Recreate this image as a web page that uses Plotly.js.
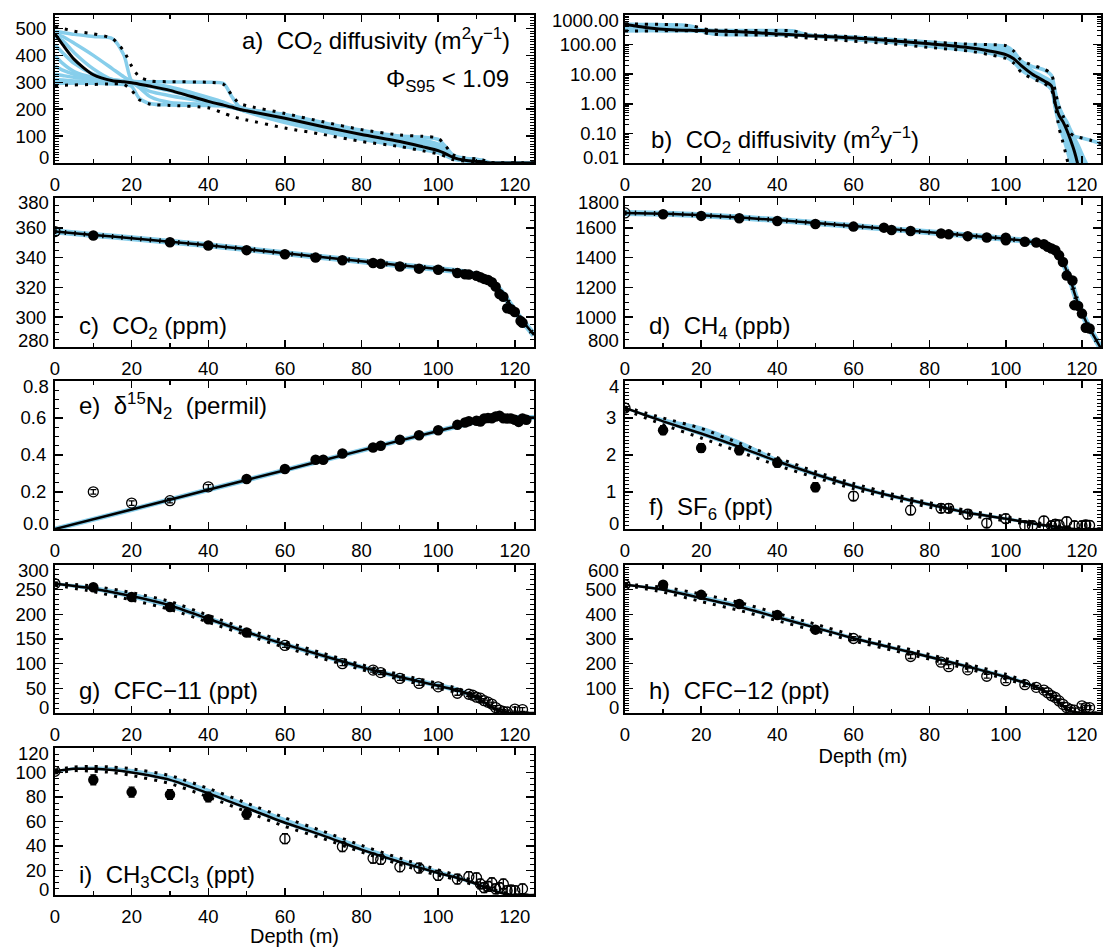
<!DOCTYPE html>
<html>
<head>
<meta charset="utf-8">
<script src="https://cdn.plot.ly/plotly-3.0.1.min.js"></script>
<style>
  html, body { margin: 0; padding: 0; background: #fff; }
  #chart { width: 1103px; height: 947px; }
</style>
</head>
<body>
<div id="chart"></div>
<script>
// ---------------- Diffusivity profiles (m2/yr) vs depth (m), panels a and b ----------------
const diffDepth = [0, 2, 5, 10, 15, 18, 20, 22, 25, 30, 40, 44, 46, 48, 50, 60, 70, 80, 90, 96,
  100, 102, 104, 107, 110, 112, 113, 114, 115, 116, 117, 118, 119, 120, 122, 125];
const diffMean = [480, 440, 385, 328, 306, 302, 298, 293, 285, 270, 229, 215, 208, 200, 194, 166, 135, 106, 80, 60,
  46, 34, 20, 10, 6, 4, 1.0, 0.4, 0.25, 0.13, 0.06, 0.025, 0.008, 0.002, 0.0005, 0.0001];
const diffHi = [505, 500, 490, 480, 462, 415, 360, 320, 305, 302, 300, 292, 255, 222, 213, 184, 153, 124, 104, 99,
  92, 62, 30, 20, 15, 10, 2.5, 0.8, 0.4, 0.2, 0.1, 0.08, 0.075, 0.07, 0.06, 0.045];
const diffLo = [288, 289, 290, 292, 294, 292, 270, 235, 218, 214, 205, 185, 175, 166, 160, 130, 106, 80, 61, 45,
  34, 24, 12, 7, 5, 3, 0.9, 0.15, 0.05, 0.015, 0.004, 0.001, 0.0003, 0.0001, 0.0001, 0.0001];
const diffRun1 = [490, 485, 478, 470, 462, 400, 305, 300, 290, 275, 235, 218, 210, 203, 196, 168, 138, 108, 82, 62,
  50, 36, 22, 11, 6.5, 4.5, 1.2, 0.5, 0.3, 0.15, 0.07, 0.03, 0.01, 0.003, 0.0008, 0.0002];
const diffRun2 = [480, 470, 445, 400, 350, 320, 305, 302, 302, 301, 300, 295, 250, 210, 200, 180, 150, 122, 100, 96,
  88, 60, 28, 18, 14, 9, 2.5, 0.8, 0.4, 0.2, 0.12, 0.08, 0.075, 0.07, 0.06, 0.045];
const diffRun3 = [470, 455, 410, 350, 310, 305, 300, 285, 265, 250, 225, 212, 206, 200, 194, 165, 133, 104, 78, 58,
  44, 32, 19, 10, 6, 4, 1.0, 0.35, 0.2, 0.1, 0.05, 0.02, 0.006, 0.002, 0.0005, 0.0001];
const diffRun4 = [400, 370, 340, 318, 308, 304, 300, 280, 245, 225, 218, 214, 208, 200, 192, 160, 128, 98, 72, 55,
  42, 30, 17, 9, 5.5, 3.5, 0.8, 0.25, 0.12, 0.05, 0.02, 0.006, 0.002, 0.0005, 0.0001, 0.0001];
const diffRun5 = [330, 325, 318, 312, 306, 303, 300, 296, 290, 278, 240, 222, 212, 204, 197, 168, 138, 110, 84, 66,
  52, 38, 22, 11, 7, 5, 1.5, 0.6, 0.35, 0.2, 0.1, 0.05, 0.025, 0.012, 0.004, 0.001];
const diffRun6 = [310, 308, 305, 302, 300, 299, 297, 292, 283, 268, 232, 216, 208, 201, 194, 164, 132, 102, 74, 56,
  43, 31, 18, 9, 5.5, 3.8, 0.9, 0.3, 0.15, 0.07, 0.03, 0.01, 0.003, 0.001, 0.0003, 0.0001];
const diffRun7 = [300, 300, 298, 296, 294, 292, 285, 240, 220, 216, 214, 212, 208, 200, 190, 150, 118, 88, 64, 50,
  38, 26, 14, 8, 5, 3, 0.7, 0.2, 0.08, 0.03, 0.01, 0.003, 0.001, 0.0003, 0.0001, 0.0001];
const diffRun8 = [360, 345, 330, 315, 306, 302, 298, 294, 288, 276, 236, 220, 211, 203, 196, 170, 140, 112, 88, 75,
  62, 45, 26, 12, 7, 5, 1.3, 0.5, 0.3, 0.16, 0.08, 0.04, 0.02, 0.01, 0.003, 0.001];
const diffRun9 = [440, 410, 370, 330, 310, 305, 300, 295, 287, 272, 232, 216, 209, 202, 195, 165, 134, 105, 78, 60,
  46, 33, 20, 10, 6, 4, 1.0, 0.4, 0.22, 0.11, 0.05, 0.02, 0.007, 0.002, 0.0005, 0.0001];
const diffRun10 = [295, 296, 297, 298, 299, 300, 300, 298, 294, 283, 244, 226, 214, 205, 198, 172, 142, 114, 92, 85,
  70, 50, 28, 13, 8, 5.5, 1.6, 0.7, 0.4, 0.25, 0.13, 0.07, 0.04, 0.02, 0.006, 0.002];
const diffRuns = [diffRun1, diffRun2, diffRun3, diffRun4, diffRun5, diffRun6, diffRun7, diffRun8, diffRun9, diffRun10];

// ---------------- c) CO2 (ppm) ----------------
const co2Depth = [0, 10, 20, 30, 40, 50, 60, 70, 80, 90, 100, 105, 108, 110, 112, 114, 116, 118, 120, 122, 125];
const co2Model = [357.5, 355.2, 353, 350.7, 348.3, 345.7, 342.9, 340.2, 337.6, 334.9, 332.3, 330.8, 329.6, 328.3,
  326.3, 323, 318.5, 311.5, 304, 297.5, 288];
const co2SurfDepth = [0];
const co2Surf = [357.5];
const co2PtDepth = [10, 30, 40, 50, 60, 68, 75, 83, 85, 90, 95, 100, 105, 107, 108, 110, 111, 112, 113, 114,
  115, 116, 117, 118, 119, 120, 121.5, 122];
const co2Pt = [354.8, 350.3, 348.1, 345, 342.3, 340, 338.2, 336.4, 335.9, 334, 332.6, 331.9, 329.6, 328.8, 328.6,
  327.8, 326.8, 325.7, 325, 323.4, 320.5, 315.5, 313.7, 306, 305.3, 303.5, 297.4, 296.3];

// ---------------- d) CH4 (ppb) ----------------
const ch4Depth = [0, 10, 20, 40, 60, 80, 100, 105, 108, 110, 111, 112, 113, 114, 115, 116, 117, 118, 119, 120,
  121, 122, 123, 125];
const ch4Model = [1700, 1695, 1685, 1652, 1612, 1570, 1527, 1512, 1500, 1488, 1478, 1465, 1446, 1418, 1375, 1310,
  1250, 1165, 1090, 1030, 975, 925, 880, 790];
const ch4SurfDepth = [0];
const ch4Surf = [1700];
const ch4PtDepth = [10, 20, 30, 40, 50, 60, 68, 70, 75, 83, 85, 90, 95, 100, 100, 105, 108, 110, 111, 112, 113,
  114, 115, 116, 117.5, 118, 119, 120, 121, 122];
const ch4Pt = [1691, 1680, 1664, 1646, 1626, 1608, 1601, 1585, 1578, 1562, 1556, 1544, 1535, 1533, 1517, 1506,
  1501, 1490, 1472, 1461, 1449, 1415, 1370, 1280, 1246, 1081, 1076, 1024, 929, 924];

// ---------------- e) delta 15N2 (permil) ----------------
const d15Depth = [0, 20, 40, 60, 80, 100, 105, 110, 113, 115, 118, 125];
const d15Model = [0.0, 0.105, 0.212, 0.318, 0.425, 0.53, 0.555, 0.58, 0.598, 0.605, 0.603, 0.603];
const d15OpenDepth = [10, 20, 30, 40];
const d15Open = [0.201, 0.14, 0.153, 0.228];
const d15OpenErr = [0.012, 0.012, 0.012, 0.012];
const d15PtDepth = [50, 60, 68, 70, 75, 83, 85, 90, 95, 100, 105, 107, 108, 110, 111, 112, 113, 114, 115, 116,
  117, 118, 119, 120, 121, 122, 123];
const d15Pt = [0.27, 0.324, 0.374, 0.374, 0.408, 0.441, 0.45, 0.482, 0.507, 0.534, 0.563, 0.576, 0.583, 0.585,
  0.581, 0.597, 0.6, 0.599, 0.608, 0.612, 0.599, 0.597, 0.597, 0.59, 0.579, 0.597, 0.59];

// ---------------- f) SF6 (ppt) ----------------
const sf6Depth = [0, 10, 20, 30, 40, 50, 60, 70, 80, 90, 100, 105, 110, 115, 118, 125];
const sf6Model = [3.27, 2.91, 2.58, 2.22, 1.83, 1.48, 1.16, 0.89, 0.66, 0.44, 0.28, 0.19, 0.1, 0.04, 0.0, 0.0];
const sf6BandHi = [3.28, 2.98, 2.76, 2.38, 1.9, 1.53, 1.2, 0.93, 0.7, 0.48, 0.31, 0.22, 0.12, 0.05, 0.01, 0.0];
const sf6BandLo = [3.25, 2.88, 2.53, 2.17, 1.78, 1.43, 1.12, 0.85, 0.62, 0.41, 0.25, 0.16, 0.07, 0.01, -0.03, -0.03];
const sf6DotHi = [3.3, 3.0, 2.72, 2.32, 1.93, 1.55, 1.23, 0.95, 0.71, 0.5, 0.33, 0.23, 0.14, 0.06, 0.02, 0.0];
const sf6DotLo = [3.22, 2.82, 2.46, 2.09, 1.72, 1.39, 1.09, 0.82, 0.59, 0.38, 0.22, 0.14, 0.05, 0.0, 0.0, 0.0];
const sf6SurfDepth = [0];
const sf6Surf = [3.27];
const sf6FirnDepth = [10, 20, 30, 40, 50];
const sf6Firn = [2.67, 2.19, 2.13, 1.79, 1.13];
const sf6IceDepth = [60, 75, 83, 85, 90, 95, 100, 105, 107, 110, 112, 113, 114, 116, 118, 120, 121, 122];
const sf6Ice = [0.89, 0.51, 0.56, 0.56, 0.4, 0.16, 0.28, 0.09, 0.09, 0.22, 0.09, 0.13, 0.11, 0.2, 0.09, 0.09, 0.11, 0.1];
const sf6Err = 0.12;

// ---------------- g) CFC-11 (ppt) ----------------
const cfcDepth = [0, 10, 20, 30, 40, 50, 60, 70, 80, 90, 100, 105, 108, 110, 112, 114, 116, 118, 125];
const cfc11Model = [262, 252, 237, 218, 191, 164, 139, 116, 93, 73, 55, 46, 38, 31, 22, 12, 4, 0.5, 0];
const cfc11BandHi = [264, 256, 243, 224, 196, 168, 143, 120, 97, 77, 60, 51, 41, 33, 23, 13, 5, 1, 0];
const cfc11BandLo = [260, 249, 233, 213, 187, 160, 135, 112, 89, 69, 52, 42, 35, 28, 19, 10, 3, 0, -2];
const cfc11DotHi = [264, 257, 244, 226, 198, 170, 145, 121, 98, 78, 60, 50, 41, 33, 23, 13, 5, 1, 0];
const cfc11DotLo = [259, 246, 229, 210, 184, 158, 133, 110, 88, 68, 50, 41, 34, 27, 18, 10, 2.5, 0, 0];
const cfc11SurfDepth = [0];
const cfc11Surf = [262];
const cfc11FirnDepth = [10, 20, 30, 40, 50];
const cfc11Firn = [255, 235, 215, 190, 163];
const cfc11IceDepth = [60, 75, 83, 85, 90, 95, 100, 105, 108, 109, 110, 111, 112, 113, 114, 115, 116, 117, 118, 120, 122];
const cfc11Ice = [137, 100, 87, 82, 70, 60, 53, 40, 38, 36, 32, 30, 25, 22, 18, 11, 6, 3, 2, 8, 7];
const cfc11Err = 4;

// ---------------- h) CFC-12 (ppt) ----------------
const cfc12Model = [520, 500, 466, 431, 388, 346, 303, 265, 227, 188, 146, 122, 106, 90, 70, 43, 16, 3, 0];
const cfc12BandHi = [522, 506, 476, 441, 397, 353, 309, 271, 233, 194, 153, 128, 110, 93, 72, 45, 18, 4, 0];
const cfc12BandLo = [518, 496, 460, 425, 382, 341, 298, 260, 222, 183, 141, 117, 101, 86, 66, 40, 13, 2, -4];
const cfc12DotHi = [522, 510, 482, 448, 404, 360, 315, 276, 237, 198, 157, 130, 112, 95, 74, 47, 19, 5, 0];
const cfc12DotLo = [517, 490, 452, 416, 374, 334, 292, 255, 218, 179, 138, 114, 99, 84, 64, 38, 12, 1, 0];
const cfc12SurfDepth = [0];
const cfc12Surf = [520];
const cfc12FirnDepth = [10, 20, 30, 40, 50];
const cfc12Firn = [520, 479, 442, 397, 338];
const cfc12IceDepth = [60, 75, 83, 85, 90, 95, 100, 105, 108, 110, 111, 112, 113, 114, 115, 116, 117, 118, 120, 121, 122];
const cfc12Ice = [302, 229, 206, 188, 175, 149, 131, 115, 104, 93, 82, 70, 63, 49, 35, 22, 15, 12, 29, 22, 22];
const cfc12Err = 8;

// ---------------- i) CH3CCl3 (ppt) ----------------
const mcfDepth = [0, 5, 10, 15, 20, 30, 40, 50, 60, 70, 80, 90, 100, 105, 110, 114, 117, 120, 125];
const mcfModel = [101, 103, 103, 102, 100, 94, 83, 71, 59, 48.5, 37, 27, 18, 14, 9, 4, 1.3, 0, 0];
const mcfBandHi = [101.5, 104, 104.5, 104, 102.5, 97, 86.5, 74.5, 62.5, 51.5, 40, 29.5, 20, 15.5, 10, 5, 2, 0.3, 0];
const mcfBandLo = [100, 102.5, 102.5, 101.5, 99.5, 93, 82, 70, 58, 47.5, 36, 26, 17, 13, 8, 3.5, 1, 0, -1];
const mcfDotHi = [102, 104.5, 105, 104.5, 103, 97.5, 87, 75, 63, 52, 40.5, 30, 20.5, 16, 10.5, 5, 2.2, 0.4, 0];
const mcfDotLo = [99.5, 101.5, 101, 100, 97.5, 91, 80, 68, 56, 46, 35, 25, 16, 12.5, 7.5, 3, 0.7, 0, 0];
const mcfSurfDepth = [0];
const mcfSurf = [101];
const mcfFirnDepth = [10, 20, 30, 40, 50];
const mcfFirn = [94, 84, 82, 80, 66];
const mcfIceDepth = [60, 75, 83, 85, 90, 95, 100, 105, 108, 110, 111, 112, 113, 114, 115, 116, 117, 118, 119, 120, 122];
const mcfIce = [46, 39.5, 30, 29, 23, 22, 16, 13, 15, 14, 9, 6, 7, 10, 5, 6, 9, 3.5, 4, 3.5, 5];
const mcfErr = 4;

// ---------------- axis ticks ----------------
const depthTicks = [0, 20, 40, 60, 80, 100, 120];
const yTickSets = {
  1: { vals: [0, 100, 200, 300, 400, 500], text: ['0', '100', '200', '300', '400', '500'] },
  2: { vals: [0.01, 0.1, 1, 10, 100, 1000], text: ['0.01', '0.10', '1.00', '10.00', '100.00', '1000.00'] },
  3: { vals: [280, 300, 320, 340, 360, 380], text: ['280', '300', '320', '340', '360', '380'] },
  4: { vals: [800, 1000, 1200, 1400, 1600, 1800], text: ['800', '1000', '1200', '1400', '1600', '1800'] },
  5: { vals: [0, 0.2, 0.4, 0.6, 0.8], text: ['0.0', '0.2', '0.4', '0.6', '0.8'] },
  6: { vals: [0, 1, 2, 3, 4], text: ['0', '1', '2', '3', '4'] },
  7: { vals: [0, 50, 100, 150, 200, 250, 300], text: ['0', '50', '100', '150', '200', '250', '300'] },
  8: { vals: [0, 100, 200, 300, 400, 500, 600], text: ['0', '100', '200', '300', '400', '500', '600'] },
  9: { vals: [0, 20, 40, 60, 80, 100, 120], text: ['0', '20', '40', '60', '80', '100', '120'] }
};

// ---------------- styling ----------------
const W = 1103, H = 947;
const FONT = 'Liberation Sans, Arial, Helvetica, sans-serif';
const TICK_SIZE = 18.5;
const LABEL_SIZE = 24;
const SKY = '#87CEEB';
const DOTS = '3px,7px';
const SMOOTH = 0.7;

const colsPx = [[55, 534], [625, 1101]];
const rowsPx = [[15, 163], [198, 347], [381, 529], [565, 713], [748, 895]];

// per panel: y range, minor tick step, log flag
const yStyle = {
  1: { range: [0, 550], minor: 10 },
  2: { range: [-2, 3], minor: 'D1', log: true },
  3: { range: [280, 380], minor: 5 },
  4: { range: [800, 1800], minor: 50 },
  5: { range: [0, 0.8], minor: 0.05 },
  6: { range: [0, 4], minor: 0.1 },
  7: { range: [0, 300], minor: 10 },
  8: { range: [0, 600], minor: 10 },
  9: { range: [0, 120], minor: 5 }
};

function sfx(p) { return p === 1 ? '' : String(p); }

const traces = [];
function addLine(p, x, y, color, width, dash) {
  traces.push({
    type: 'scatter', mode: 'lines', x: x, y: y,
    xaxis: 'x' + sfx(p), yaxis: 'y' + sfx(p),
    line: { color: color, width: width, dash: dash || 'solid', shape: 'spline', smoothing: SMOOTH },
    hoverinfo: 'skip', showlegend: false
  });
}
function addBand(p, x, lo, hi) {
  traces.push({
    type: 'scatter', mode: 'lines',
    x: x.concat(x.slice().reverse()),
    y: hi.concat(lo.slice().reverse()),
    xaxis: 'x' + sfx(p), yaxis: 'y' + sfx(p),
    fill: 'toself', fillcolor: SKY,
    line: { color: SKY, width: 1, shape: 'spline', smoothing: SMOOTH },
    hoverinfo: 'skip', showlegend: false
  });
}
function addPoints(p, x, y, open, err) {
  const t = {
    type: 'scatter', mode: 'markers', x: x, y: y,
    xaxis: 'x' + sfx(p), yaxis: 'y' + sfx(p),
    marker: open
      ? { symbol: 'circle-open', size: 10, color: '#000', line: { color: '#000', width: 1.3 } }
      : { symbol: 'circle', size: 10.5, color: '#000' },
    hoverinfo: 'skip', showlegend: false
  };
  if (err !== undefined) {
    t.error_y = Array.isArray(err)
      ? { type: 'data', array: err, color: '#000', thickness: 1.3, width: 3 }
      : { type: 'constant', value: err, color: '#000', thickness: 1.3, width: 3 };
  }
  traces.push(t);
}

// a) and b): the same diffusivity ensemble on linear and log scales
[1, 2].forEach(p => {
  diffRuns.forEach(run => addLine(p, diffDepth, run, SKY, 3.5));
  addLine(p, diffDepth, diffHi, '#000', 3, DOTS);
  addLine(p, diffDepth, diffLo, '#000', 3, DOTS);
  addLine(p, diffDepth, diffMean, '#000', 3);
});

// c) CO2
addLine(3, co2Depth, co2Model, SKY, 6);
addLine(3, co2Depth, co2Model, '#000', 2.5);
addLine(3, co2Depth, co2Model, '#000', 5, '1.5px,8px');
addPoints(3, co2SurfDepth, co2Surf, true);
addPoints(3, co2PtDepth, co2Pt, false);

// d) CH4
addLine(4, ch4Depth, ch4Model, SKY, 6);
addLine(4, ch4Depth, ch4Model, '#000', 2.5);
addLine(4, ch4Depth, ch4Model, '#000', 5, '1.5px,8px');
addPoints(4, ch4SurfDepth, ch4Surf, true);
addPoints(4, ch4PtDepth, ch4Pt, false);

// e) d15N2
addLine(5, d15Depth, d15Model, SKY, 5);
addLine(5, d15Depth, d15Model, '#000', 2.5);
addPoints(5, d15OpenDepth, d15Open, true, d15OpenErr);
addPoints(5, d15PtDepth, d15Pt, false);

// f) - i): band of model runs, dotted envelope, mean, firn and ice data
function tracerPanel(p, depth, model, bHi, bLo, dHi, dLo, sd, sv, fd, fv, idp, iv, err) {
  addBand(p, depth, bLo, bHi);
  addLine(p, depth, dHi, '#000', 3, DOTS);
  addLine(p, depth, dLo, '#000', 3, DOTS);
  addLine(p, depth, model, '#000', 2.5);
  addPoints(p, sd, sv, true);
  addPoints(p, fd, fv, false, err);
  addPoints(p, idp, iv, true, err);
}
tracerPanel(6, sf6Depth, sf6Model, sf6BandHi, sf6BandLo, sf6DotHi, sf6DotLo,
  sf6SurfDepth, sf6Surf, sf6FirnDepth, sf6Firn, sf6IceDepth, sf6Ice, sf6Err);
tracerPanel(7, cfcDepth, cfc11Model, cfc11BandHi, cfc11BandLo, cfc11DotHi, cfc11DotLo,
  cfc11SurfDepth, cfc11Surf, cfc11FirnDepth, cfc11Firn, cfc11IceDepth, cfc11Ice, cfc11Err);
tracerPanel(8, cfcDepth, cfc12Model, cfc12BandHi, cfc12BandLo, cfc12DotHi, cfc12DotLo,
  cfc12SurfDepth, cfc12Surf, cfc12FirnDepth, cfc12Firn, cfc12IceDepth, cfc12Ice, cfc12Err);
tracerPanel(9, mcfDepth, mcfModel, mcfBandHi, mcfBandLo, mcfDotHi, mcfDotLo,
  mcfSurfDepth, mcfSurf, mcfFirnDepth, mcfFirn, mcfIceDepth, mcfIce, mcfErr);

// ---------------- layout ----------------
const layout = {
  width: W, height: H,
  margin: { l: 0, r: 0, t: 0, b: 0 },
  paper_bgcolor: '#fff', plot_bgcolor: '#fff',
  showlegend: false,
  font: { family: FONT, size: TICK_SIZE, color: '#000' },
  annotations: []
};

const tickFont = { family: FONT, size: TICK_SIZE, color: '#000' };
const LABEL_GAP = 5;

for (let p = 1; p <= 9; p++) {
  const row = Math.floor((p - 1) / 2), col = (p - 1) % 2;
  const xd = [colsPx[col][0] / W, colsPx[col][1] / W];
  const yd = [1 - rowsPx[row][1] / H, 1 - rowsPx[row][0] / H];
  const ys = yStyle[p];
  const ts = yTickSets[p];
  const lo = ys.log ? Math.pow(10, ys.range[0]) : ys.range[0];
  const hi = ys.log ? Math.pow(10, ys.range[1]) : ys.range[1];

  layout['xaxis' + sfx(p)] = {
    domain: xd, anchor: 'y' + sfx(p), range: [0, 125],
    tickmode: 'array', tickvals: depthTicks, ticktext: depthTicks.map(String),
    ticks: 'inside', ticklen: 7, tickwidth: 1.5, tickcolor: '#000',
    minor: { tickmode: 'linear', tick0: 0, dtick: 10, ticks: 'inside', ticklen: 4, tickwidth: 1.2, tickcolor: '#000' },
    showline: true, linecolor: '#000', linewidth: 2, mirror: 'ticks',
    showgrid: false, zeroline: false, tickfont: tickFont, ticklabelstandoff: 4
  };
  if (p === 8 || p === 9) {
    layout['xaxis' + sfx(p)].title = { text: 'Depth (m)', font: { family: FONT, size: 20, color: '#000' }, standoff: 2 };
  }

  // labels sitting on the frame edges are drawn just inside the axis span
  const innerVals = [], innerText = [];
  ts.vals.forEach((v, k) => {
    const atBottom = Math.abs(v - lo) < 1e-9;
    const atTop = Math.abs(v - hi) < 1e-9;
    if (!atBottom && !atTop) { innerVals.push(v); innerText.push(ts.text[k]); return; }
    layout.annotations.push({
      xref: 'x' + sfx(p) + ' domain', yref: 'y' + sfx(p),
      x: 0, y: ys.log ? Math.log10(v) : v,
      xanchor: 'right', yanchor: 'middle',
      xshift: -LABEL_GAP, yshift: atTop ? -5 : 6,
      text: ts.text[k], showarrow: false, font: tickFont, borderpad: 0
    });
  });

  layout['yaxis' + sfx(p)] = {
    domain: yd, anchor: 'x' + sfx(p), range: ys.range,
    type: ys.log ? 'log' : 'linear',
    tickmode: 'array', tickvals: innerVals, ticktext: innerText,
    ticks: 'inside', ticklen: 8, tickwidth: 1.5, tickcolor: '#000',
    minor: { tickmode: 'linear', tick0: 0, dtick: ys.minor, ticks: 'inside', ticklen: 4, tickwidth: 1, tickcolor: '#000' },
    showline: true, linecolor: '#000', linewidth: 2, mirror: 'ticks',
    showgrid: false, zeroline: false, tickfont: tickFont, ticklabelstandoff: 3
  };
}

// panel captions
function caption(xPx, yPx, text, anchor) {
  layout.annotations.push({
    xref: 'paper', yref: 'paper', x: xPx / W, y: 1 - yPx / H,
    xanchor: anchor, yanchor: 'middle', text: text, showarrow: false,
    font: { family: FONT, size: LABEL_SIZE, color: '#000' }
  });
}
caption(512, 41, 'a)\u00a0 CO<sub>2</sub> diffusivity (m<sup>2</sup>y<sup>\u22121</sup>)', 'right');
caption(511, 81, '\u03A6<sub>S95</sub> &lt; 1.09', 'right');
caption(649, 140, 'b)\u00a0 CO<sub>2</sub> diffusivity (m<sup>2</sup>y<sup>\u22121</sup>)', 'left');
caption(77, 327, 'c)\u00a0 CO<sub>2</sub> (ppm)', 'left');
caption(647, 327, 'd)\u00a0 CH<sub>4</sub> (ppb)', 'left');
caption(77, 406, 'e)\u00a0 \u03B4<sup>15</sup>N<sub>2</sub>\u00a0 (permil)', 'left');
caption(647, 508, 'f)\u00a0 SF<sub>6</sub> (ppt)', 'left');
caption(77, 690, 'g)\u00a0 CFC\u221211 (ppt)', 'left');
caption(647, 690, 'h)\u00a0 CFC\u221212 (ppt)', 'left');
caption(77, 876, 'i)\u00a0 CH<sub>3</sub>CCl<sub>3</sub> (ppt)', 'left');

Plotly.newPlot('chart', traces, layout, { staticPlot: true, displayModeBar: false });
</script>
</body>
</html>
